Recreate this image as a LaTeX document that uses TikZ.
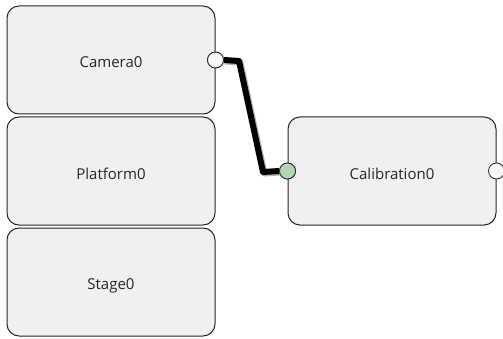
\documentclass[tikz,border=0pt]{standalone}
\usepackage{fontspec}
\setmainfont{Open Sans}
\newcommand{\blocklabel}[1]{\raisebox{-2.5pt}[\height][0pt]{#1}}
\begin{document}
\begin{tikzpicture}[x=1pt,y=-1pt,
  block/.style={draw=black!85, line width=1pt, fill=black!6, rounded corners=12pt,
    minimum width=208pt, minimum height=108pt, inner sep=0pt, text=black!85,
    font=\fontsize{15}{18}\selectfont},
  port/.style={circle, draw=black!85, line width=0.8pt, fill=black!3, minimum size=16pt, inner sep=0pt},
  inport/.style={port, fill=green!45!black!30!white},
  wire/.style={line width=6pt, line join=round},
  wireshadow/.style={line width=6.5pt, draw=black!30, line join=round}]
\useasboundingbox (0,0) rectangle (503,339);
\node[block] (camera) at (111,60) {\blocklabel{Camera0}};
\node[block] (platform) at (111,171) {\blocklabel{Platform0}};
\node[block] (stage) at (111,282) {\blocklabel{Stage0}};
\node[block] (calib) at (392,171) {\blocklabel{Calibration0}};
\node[port] (camout) at (camera.east) {};
\node[inport] (calin) at (calib.west) {};
\node[port] (calout) at (calib.east) {};
\coordinate (b1) at (239,61);
\coordinate (b2) at (263,172);
\begin{scope}[transform canvas={shift={(1.2pt,-1.2pt)}}]
\draw[wireshadow] (camout.east) -- (b1) -- (b2) -- (calin.west);
\end{scope}
\draw[wire] (camout.east) -- (b1) -- (b2) -- (calin.west);
\node[port] at (camout) {};
\node[inport] at (calin) {};
\end{tikzpicture}
\end{document}
